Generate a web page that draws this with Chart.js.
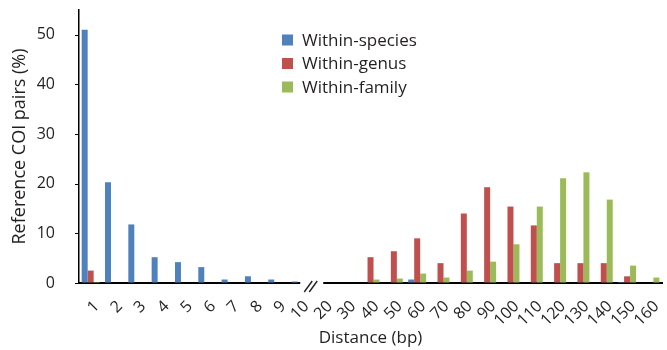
<!DOCTYPE html>
<html>
<head>
<meta charset="utf-8">
<script src="https://cdn.jsdelivr.net/npm/chart.js@4.4.1/dist/chart.umd.min.js"></script>
<style>
  html, body { margin: 0; padding: 0; background: #fff; }
  #wrap { width: 667px; height: 350px; }
</style>
</head>
<body>
<div id="wrap"><canvas id="c" width="667" height="350"></canvas></div>
<script>
const categories = ['1','2','3','4','5','6','7','8','9','10','20','30','40','50','60','70','80','90','100','110','120','130','140','150','160'];
const withinSpecies = [51, 20.3, 11.8, 5.2, 4.2, 3.2, 0.7, 1.35, 0.7, 0.3, 0, 0, 0, 0, 0.7, 0, 0, 0, 0, 0, 0, 0, 0, 0.2, 0];
const withinGenus   = [2.5, 0, 0, 0, 0, 0, 0, 0, 0, 0, 0, 0, 5.2, 6.4, 9.0, 4.0, 14.0, 19.3, 15.4, 11.6, 4.0, 4.0, 4.0, 1.35, 0];
const withinFamily  = [0.2, 0, 0, 0, 0, 0, 0, 0, 0, 0, 0, 0, 0.7, 0.9, 1.9, 1.1, 2.5, 4.3, 7.8, 15.4, 21.1, 22.3, 16.8, 3.5, 1.1];
const seriesNames = ['Within-species', 'Within-genus', 'Within-family'];
const seriesColors = ['#4F81BD', '#C0504D', '#9BBB59'];
const yTicks = [0, 10, 20, 30, 40, 50];

const FONT = '"Open Sans", "DejaVu Sans", sans-serif';
const TXT = '#231f20';

const decoPlugin = {
  id: 'deco',
  afterDraw(chart) {
    const ctx = chart.ctx;
    const xs = chart.scales.x;
    const ys = chart.scales.y;
    const y = chart.chartArea.bottom;
    const left = chart.chartArea.left;
    ctx.save();
    // y tick marks
    ctx.strokeStyle = '#000';
    ctx.lineWidth = 1.2;
    ctx.beginPath();
    yTicks.forEach(v => {
      const py = Math.round(ys.getPixelForValue(v)) + 0.5;
      ctx.moveTo(left - 4, py); ctx.lineTo(left, py);
    });
    ctx.stroke();
    // axis break
    const b = (xs.getPixelForValue(9) + xs.getPixelForValue(10)) / 2;
    ctx.fillStyle = '#fff';
    ctx.fillRect(b - 12, y - 2, 23, 4);
    ctx.strokeStyle = '#222';
    ctx.lineWidth = 1.4;
    ctx.beginPath();
    ctx.moveTo(b - 8, y + 9); ctx.lineTo(b + 0, y - 2);
    ctx.moveTo(b - 3, y + 9); ctx.lineTo(b + 5, y - 2);
    ctx.stroke();
    ctx.restore();
  }
};

const legendPlugin = {
  id: 'innerLegend',
  afterDraw(chart) {
    const ctx = chart.ctx;
    ctx.save();
    ctx.font = '17px ' + FONT;
    ctx.textBaseline = 'middle';
    ctx.textAlign = 'left';
    chart.data.datasets.forEach((ds, i) => {
      const cy = 40 + i * 23.5;
      ctx.fillStyle = ds.backgroundColor;
      ctx.fillRect(282, cy - 5.5, 11, 11);
      ctx.fillStyle = TXT;
      ctx.fillText(ds.label, 302, cy + 1);
    });
    ctx.restore();
  }
};

new Chart(document.getElementById('c'), {
  type: 'bar',
  data: {
    labels: categories,
    datasets: [withinSpecies, withinGenus, withinFamily].map((d, i) => ({
      label: seriesNames[i],
      data: d,
      backgroundColor: seriesColors[i],
      borderWidth: 0,
      categoryPercentage: 0.77,
      barPercentage: 1.0
    }))
  },
  options: {
    responsive: false,
    animation: false,
    devicePixelRatio: 1,
    layout: { padding: { top: 0, right: 1, left: 0, bottom: 0 } },
    plugins: { legend: { display: false }, tooltip: { enabled: false } },
    scales: {
      x: {
        grid: { display: true, drawOnChartArea: false, drawTicks: true, tickLength: 11, color: 'rgba(0,0,0,0)' },
        border: { display: true, color: '#000', width: 2 },
        ticks: {
          color: TXT,
          font: { family: FONT, size: 16 },
          minRotation: 45, maxRotation: 45,
          padding: 3,
          labelOffset: 6,
          autoSkip: false
        },
        title: {
          display: true,
          text: 'Distance (bp)',
          color: TXT,
          font: { family: FONT, size: 17 },
          padding: { top: 0, bottom: 2 }
        },
        afterFit(scale) { scale.height = 67; }
      },
      y: {
        min: 0, max: 55,
        grid: { display: true, drawOnChartArea: false, drawTicks: true, tickLength: 22, color: 'rgba(0,0,0,0)' },
        border: { display: true, color: '#000', width: 1.5 },
        afterBuildTicks(scale) { scale.ticks = yTicks.map(v => ({ value: v })); },
        ticks: {
          color: TXT,
          font: { family: FONT, size: 16, lineHeight: 1.0 },
          padding: 2,
          includeBounds: false
        },
        title: {
          display: true,
          text: 'Reference COI pairs (%)',
          color: TXT,
          font: { family: FONT, size: 18 },
          padding: { top: 9, bottom: 0 }
        },
        afterFit(scale) { scale.width = 79; }
      }
    }
  },
  plugins: [decoPlugin, legendPlugin]
});
</script>
</body>
</html>
